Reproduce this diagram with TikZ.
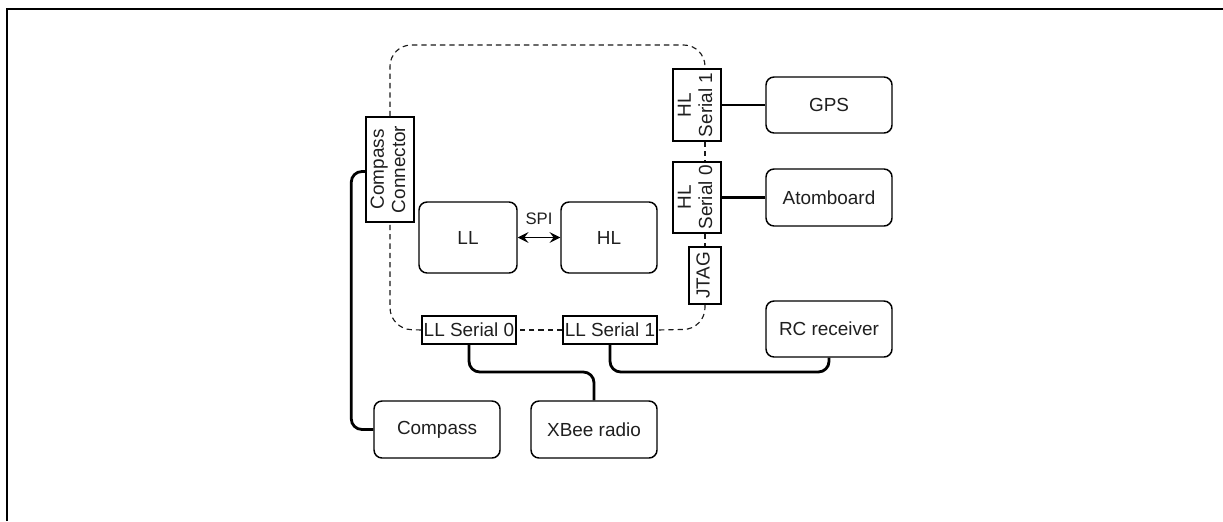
\documentclass[tikz,border=0pt]{standalone}
\usepackage{graphicx}
\usepackage{fontspec}
\setmainfont{Liberation Sans}
\usetikzlibrary{arrows.meta,calc}

\tikzset{
  unit/.style={draw=black, line width=1.1pt, rounded corners=6pt, fill=white,
    inner sep=0pt, font=\fontsize{14.2}{17}\selectfont, text=black!88},
  port/.style={draw=black, line width=1.1pt, fill=white, inner sep=0pt,
    font=\fontsize{14.2}{17}\selectfont, text=black!88},
  bus/.style={draw=black!90, line width=0.85pt, dash pattern=on 4pt off 3pt,
    rounded corners=16pt},
  wire/.style={draw=black, line width=2.1pt, rounded corners=8pt},
  spilink/.style={line width=1.2pt,
    {Stealth[length=8pt,width=8pt,inset=3pt]}-{Stealth[length=8pt,width=8pt,inset=3pt]}},
}
\newcommand{\vtext}[1]{\rotatebox{90}{\begin{tabular}{@{}c@{}}#1\end{tabular}}}

\begin{document}
\begin{tikzpicture}[x=0.75pt, y=-0.75pt]
  \useasboundingbox (0,0) rectangle (1223,521);

  % outer frame (top and left edges)
  \draw[line width=1.6pt] (7,521) -- (7,9) -- (1223,9);

  % processors
  \node[unit, minimum width=98*0.75pt, minimum height=71*0.75pt] (LL) at (468,237.5) {LL};
  \node[unit, minimum width=96*0.75pt, minimum height=71*0.75pt] (HL) at (609,237.5) {HL};

  % ports on the board
  \node[port, minimum width=48*0.75pt, minimum height=105*0.75pt] (CC) at (390,169.5)
    {\vtext{Compass\\[-1pt]Connector}};
  \node[port, minimum width=48*0.75pt, minimum height=72*0.75pt] (HLS1) at (697,105)
    {\vtext{HL\\[-1pt]Serial 1}};
  \node[port, minimum width=48*0.75pt, minimum height=71*0.75pt] (HLS0) at (697,197.5)
    {\vtext{HL\\[-1pt]Serial 0}};
  \node[port, minimum width=32*0.75pt, minimum height=57*0.75pt] (JTAG) at (705,275.5)
    {\vtext{JTAG}};
  \node[port, minimum width=94*0.75pt, minimum height=28*0.75pt] (LLS0) at (469,330) {LL Serial 0};
  \node[port, minimum width=94*0.75pt, minimum height=28*0.75pt] (LLS1) at (610,330) {LL Serial 1};

  % external devices
  \node[unit, minimum width=126*0.75pt, minimum height=56*0.75pt] (GPS) at (829,105) {GPS};
  \node[unit, minimum width=126*0.75pt, minimum height=57*0.75pt] (ATOM) at (829,197.5) {Atomboard};
  \node[unit, minimum width=126*0.75pt, minimum height=56*0.75pt] (RC) at (829,329) {RC receiver};
  \node[unit, minimum width=126*0.75pt, minimum height=57*0.75pt] (COMP) at (437,429.5) {Compass};
  \node[unit, minimum width=126*0.75pt, minimum height=57*0.75pt] (XBEE) at (594,429.5) {XBee radio};

  % board outline through the ports
  \coordinate (tl) at (390,45);
  \coordinate (tr) at (705,45);
  \coordinate (br) at (705,329);
  \coordinate (bl) at (390,329);
  \draw[bus] (CC.north) -- (tl) -- (tr) -- (HLS1.north -| tr);
  \draw[bus] (HLS1.south -| tr) -- (HLS0.north -| tr);
  \draw[bus] (HLS0.south -| tr) -- (JTAG.north);
  \draw[bus] (JTAG.south) -- (br) -- (LLS1.east);
  \draw[bus] (LLS1.west) -- (LLS0.east);
  \draw[bus] (LLS0.west) -- (bl) -- (CC.south);

  % SPI link
  \draw[spilink]
    (LL.east) -- node[above=6pt, font=\fontsize{12.5}{14}\selectfont, text=black!88] {SPI} (HL.west);

  % cables
  \coordinate (cab) at (0,372);
  \draw[wire] (HLS1.east) -- (GPS.west);
  \draw[wire] (HLS0.east) -- (ATOM.west);
  \draw[wire] (LLS0.south) |- (XBEE.north |- cab) -- (XBEE.north);
  \draw[wire] (LLS1.south) |- (RC.south |- cab) -- (RC.south);
  \draw[wire] ([yshift=-1.5]CC.west) -- ++(-14,0) |- (COMP.west);
\end{tikzpicture}
\end{document}
